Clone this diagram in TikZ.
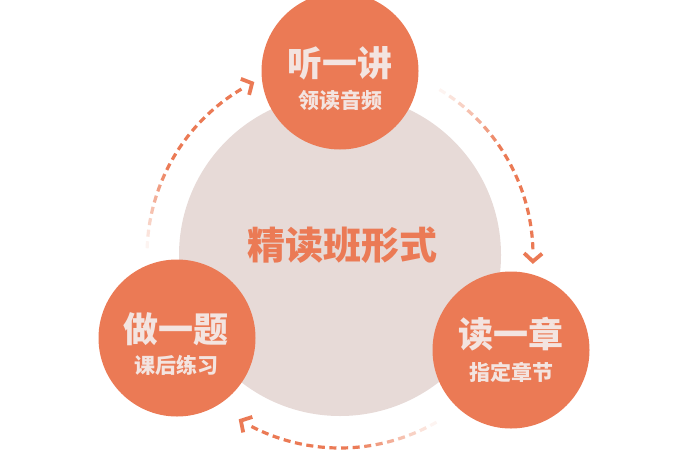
\documentclass[tikz,border=0pt]{standalone}
\usepackage{fontspec}
\newfontfamily\cjk{Noto Sans CJK SC}
\definecolor{org}{HTML}{EB7A55}
\definecolor{bigc}{HTML}{E7DAD7}
\definecolor{lt}{HTML}{F3E4E0}
\begin{document}
\begin{tikzpicture}[x=1pt,y=1pt,
  smallc/.style={circle, fill=org, minimum size=157pt, inner sep=0pt},
  mainlbl/.style={text=lt, font=\cjk\bfseries\fontsize{35}{35}\selectfont},
  sublbl/.style={text=lt, font=\cjk\bfseries\fontsize{21}{21}\selectfont},
  dashseg/.style={line width=3.2pt, line cap=butt},
  chev/.style={org, line width=3.8pt, line join=miter, line cap=butt}]
\useasboundingbox (0,0) rectangle (684,467);
\coordinate (c) at (340,212);
\node[circle, fill=bigc, minimum size=322pt, inner sep=0pt] (big) at (c) {};
\node[text=org, font=\cjk\bfseries\fontsize{38}{38}\selectfont] (title) at (342,222) {精读班形式};
\node[smallc] (top) at (340,396) {};
\node[smallc] (left) at (177,129) {};
\node[smallc] (right) at (511,117) {};
\node[mainlbl] (topm) at (340,404) {听一讲};
\node[sublbl] (tops) at (340,367) {领读音频};
\node[mainlbl] (leftm) at (176,138) {做一题};
\node[sublbl] (lefts) at (176,102) {课后练习};
\node[mainlbl] (rightm) at (511,133) {读一章};
\node[sublbl] (rights) at (511,95) {指定章节};
\foreach \s in {59,-60,178} {
  \foreach \i in {0,...,16} {
    \pgfmathsetmacro{\a}{\s - \i*3.45}
    \pgfmathtruncatemacro{\p}{min(100, 8 + \i*13)}
    \draw[dashseg, org!\p!white] (c) ++(\a:193) arc[start angle=\a, delta angle=-2.1, radius=193];
  }
  \pgfmathsetmacro{\e}{\s - 60.6}
  \begin{scope}[shift={(c)}, rotate=\e]
    \draw[chev] (184,7) -- (193,-1) -- (202,7);
  \end{scope}
}
\end{tikzpicture}
\end{document}
